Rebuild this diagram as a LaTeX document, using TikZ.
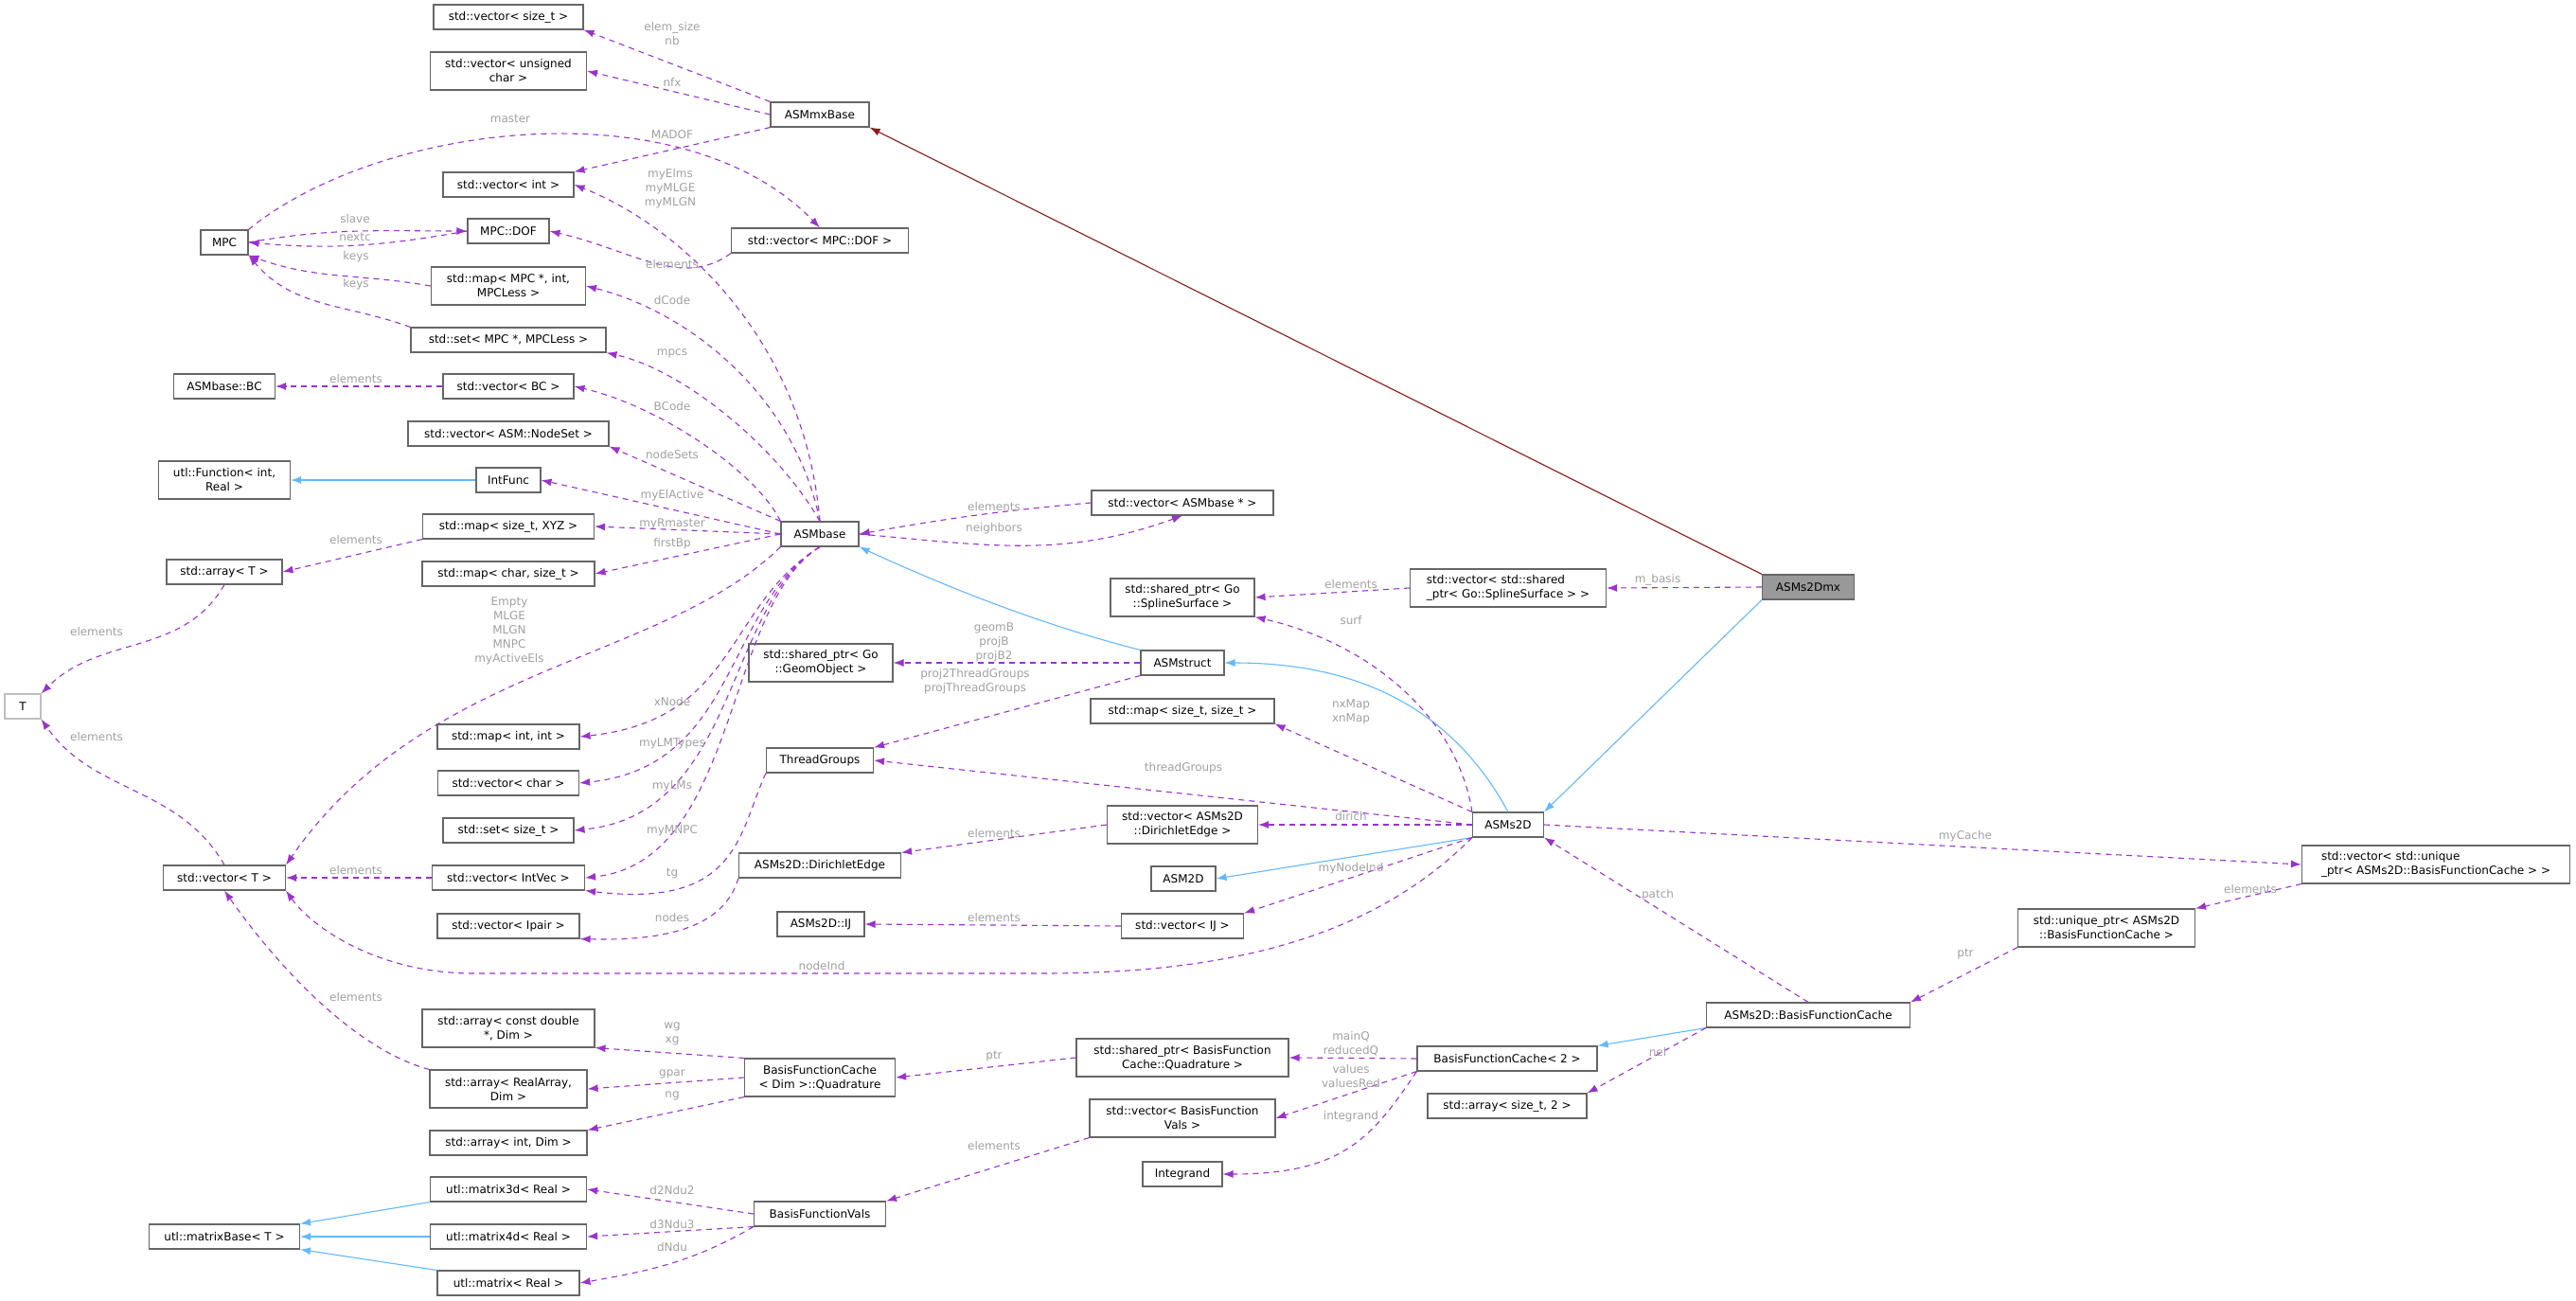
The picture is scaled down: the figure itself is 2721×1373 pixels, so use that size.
\documentclass[tikz,border=0pt]{standalone}
\usepackage{fontspec}
\setmainfont{DejaVu Sans}
\usetikzlibrary{arrows.meta}
\definecolor{pur}{HTML}{9A32CD}
\definecolor{lab}{HTML}{A0A0A0}
\definecolor{blu}{HTML}{63B8FF}
\definecolor{dred}{HTML}{8B1A1A}
\definecolor{bord}{HTML}{666666}
\begin{document}
\begin{tikzpicture}[x=1pt,y=-1pt,
 every node/.style={font=\fontsize{12}{15}\selectfont},
 box/.style={draw=bord,line width=1.1pt,fill=white,inner sep=1pt,align=center},
 rel/.style={pur,dashed,line width=1.1pt,dash pattern=on 6pt off 5pt,-{Latex[length=11pt,width=8pt]}},
 inh/.style={blu,line width=1.1pt,-{Latex[length=11pt,width=8pt]}},
 minh/.style={dred,line width=1.1pt,-{Latex[length=11pt,width=8pt]}},
 lb/.style={lab,align=center,inner sep=0pt,font=\fontsize{12}{15}\selectfont}]
\useasboundingbox (0,0) rectangle (2721,1373);
\newcommand{\bx}[6]{\node[box,minimum width=#4pt,minimum height=#5pt] (#1) at (#2,#3) {#6};}
\bx{vsizet}{537}{18}{158}{26}{std::vector< size\_t >}
\bx{vuchar}{537}{75}{165}{40}{std::vector< unsigned\\char >}
\bx{mxbase}{866}{121}{104}{26}{ASMmxBase}
\bx{vint}{537}{195}{138}{26}{std::vector< int >}
\bx{mpc}{237}{256}{50}{26}{MPC}
\bx{dof}{537}{244}{86}{26}{MPC::DOF}
\bx{vdof}{866}{254}{187}{26}{std::vector< MPC::DOF >}
\bx{mapmpc}{537}{302}{163}{40}{std::map< MPC *, int,\\MPCLess >}
\bx{setmpc}{537}{359}{206}{26}{std::set< MPC *, MPCLess >}
\bx{bc}{237}{408}{107}{26}{ASMbase::BC}
\bx{vbc}{537}{408}{138}{26}{std::vector< BC >}
\bx{vns}{537}{458}{212}{26}{std::vector< ASM::NodeSet >}
\bx{func}{237}{507}{139}{40}{utl::Function< int,\\Real >}
\bx{intfunc}{537}{507}{68}{26}{IntFunc}
\bx{mapxyz}{537}{556}{181}{26}{std::map< size\_t, XYZ >}
\bx{asmbase}{866}{564}{82}{26}{ASMbase}
\bx{arrT}{237}{604}{122}{26}{std::array< T >}
\bx{mapchar}{537}{606}{182}{26}{std::map< char, size\_t >}
\bx{geom}{867}{700}{152}{40}{std::shared\_ptr< Go\\::GeomObject >}
\node[box,draw=lightgray,minimum width=38pt,minimum height=26pt] (T) at (24,746) {T};
\bx{mapint}{537}{778}{150}{26}{std::map< int, int >}
\bx{tgroups}{866}{803}{113}{26}{ThreadGroups}
\bx{vchar}{537}{827}{149}{26}{std::vector< char >}
\bx{setsz}{537}{877}{138}{26}{std::set< size\_t >}
\bx{dedge}{866}{914}{171}{26}{ASMs2D::DirichletEdge}
\bx{vT}{237}{927}{129}{26}{std::vector< T >}
\bx{vintvec}{537}{927}{161}{26}{std::vector< IntVec >}
\bx{vipair}{537}{978}{150}{26}{std::vector< Ipair >}
\bx{ij}{867}{976}{92}{26}{ASMs2D::IJ}
\bx{arrcd}{537}{1086}{182}{40}{std::array< const double\\*, Dim >}
\bx{quad}{866}{1138}{159}{40}{BasisFunctionCache\\< Dim >::Quadrature}
\bx{arrra}{537}{1150}{166}{40}{std::array< RealArray,\\Dim >}
\bx{arrint}{537}{1207}{166}{26}{std::array< int, Dim >}
\bx{m3d}{537}{1256}{165}{26}{utl::matrix3d< Real >}
\bx{bfv}{866}{1282}{139}{26}{BasisFunctionVals}
\bx{mbase}{237}{1306}{159}{26}{utl::matrixBase< T >}
\bx{m4d}{537}{1306}{165}{26}{utl::matrix4d< Real >}
\bx{mat}{537}{1355}{150}{26}{utl::matrix< Real >}
\bx{vbase}{1249}{531}{192}{26}{std::vector< ASMbase * >}
\bx{spl}{1249}{631}{152}{40}{std::shared\_ptr< Go\\::SplineSurface >}
\node[box,align=left,minimum width=207pt,minimum height=40pt] (vspl) at (1593,621) {std::vector< std::shared\\\_ptr< Go::SplineSurface > >};
\node[box,fill=gray!80,minimum width=97pt,minimum height=26pt] (mx) at (1910,620) {ASMs2Dmx};
\bx{struct}{1249}{700}{88}{26}{ASMstruct}
\bx{mapss}{1249}{751}{194}{26}{std::map< size\_t, size\_t >}
\bx{vdedge}{1249}{871}{159}{40}{std::vector< ASMs2D\\::DirichletEdge >}
\bx{s2d}{1593}{871}{75}{26}{ASMs2D}
\bx{asm2d}{1250}{928}{68}{26}{ASM2D}
\bx{vij}{1249}{978}{129}{26}{std::vector< IJ >}
\bx{bfc}{1910}{1072}{215}{26}{ASMs2D::BasisFunctionCache}
\bx{spq}{1249}{1117}{224}{40}{std::shared\_ptr< BasisFunction\\Cache::Quadrature >}
\bx{bfc2}{1592}{1118}{190}{26}{BasisFunctionCache< 2 >}
\bx{vbfv}{1249}{1181}{196}{40}{std::vector< BasisFunction\\Vals >}
\bx{arr2}{1592}{1168}{168}{26}{std::array< size\_t, 2 >}
\bx{integ}{1249}{1240}{84}{26}{Integrand}
\node[box,align=left,minimum width=283pt,minimum height=40pt] (vuniq) at (2573,913) {std::vector< std::unique\\\_ptr< ASMs2D::BasisFunctionCache > >};
\bx{uniq}{2225}{980}{187}{40}{std::unique\_ptr< ASMs2D\\::BasisFunctionCache >}

% edges
\draw[rel] (mxbase.north west) -- (vsizet.south east);
\draw[rel] (mxbase.west) -- (vuchar.east);
\draw[rel] (mxbase.south west) -- (vint.north east);
\draw[rel] (mpc.north east) .. controls (400,130) and (720,90) .. (vdof.north);
\draw[rel] (mpc.east) to[out=10,in=180] (dof.west);
\draw[rel] (dof.west) to[out=190,in=-5] (mpc.east);
\draw[rel] (mapmpc.west) to[out=170,in=-20] (mpc.south east);
\draw[rel] (setmpc.north west) to[out=160,in=-50] (mpc.south east);
\draw[rel] (vdof.south west) .. controls (720,305) and (670,265) .. (dof.east);
\draw[rel] (asmbase.north) .. controls (850,360) and (720,240) .. (vint.east);
\draw[rel] (asmbase.north) .. controls (840,420) and (730,330) .. (mapmpc.east);
\draw[rel] (asmbase.north) .. controls (820,470) and (720,390) .. (setmpc.south east);
\draw[rel] (asmbase.north west) .. controls (800,500) and (700,430) .. (vbc.east);
\draw[rel] (vbc.west) -- (bc.east);
\draw[rel] (asmbase.north west) -- (vns.south east);
\draw[inh] (intfunc.west) -- (func.east);
\draw[rel] (asmbase.west) -- (intfunc.east);
\draw[rel] (asmbase.west) -- (mapxyz.east);
\draw[rel] (asmbase.west) -- (mapchar.east);
\draw[rel] (mapxyz.south west) -- (arrT.east);
\draw[rel] (arrT.south) to[out=-120,in=45] (T.north east);
\draw[rel] (vT.north) to[out=120,in=-55] (T.south east);
\draw[rel] (asmbase.south west) .. controls (700,700) and (450,700) .. (vT.north east);
\draw[rel] (asmbase.south) .. controls (765,640) and (780,760) .. (mapint.east);
\draw[rel] (asmbase.south) .. controls (765,640) and (780,810) .. (vchar.east);
\draw[rel] (asmbase.south) .. controls (765,640) and (780,860) .. (setsz.east);
\draw[rel] (asmbase.south) .. controls (765,640) and (780,910) .. (vintvec.east);
\draw[rel] (vintvec.west) -- (vT.east);
\draw[rel] (tgroups.south west) .. controls (780,880) and (780,960) .. (vintvec.south east);
\draw[rel] (dedge.south west) .. controls (770,960) and (740,995) .. (vipair.south east);
\draw[rel] (s2d.south west) .. controls (1450,990) and (1300,1028) .. (1100,1028) -- (500,1028) .. controls (400,1028) and (330,980) .. (vT.south east);
\draw[rel] (arrra.north west) .. controls (380,1110) and (300,1030) .. (vT.south);
\draw[rel] (quad.north west) -- (arrcd.south east);
\draw[rel] (quad.west) -- (arrra.east);
\draw[rel] (quad.south west) -- (arrint.north east);
\draw[inh] (m3d.south west) -- (mbase.north east);
\draw[inh] (m4d.west) -- (mbase.east);
\draw[inh] (mat.north west) -- (mbase.south east);
\draw[rel] (bfv.west) -- (m3d.east);
\draw[rel] (bfv.south west) -- (m4d.east);
\draw[rel] (bfv.south west) to[out=-150,in=10] (mat.east);
\draw[rel] (vbase.west) to[out=185,in=10] (asmbase.east);
\draw[rel] (asmbase.east) to[out=-5,in=200] (vbase.south);
\draw[inh] (struct.north west) .. controls (1100,660) and (1000,620) .. (asmbase.south east);
\draw[rel] (struct.west) -- (geom.east);
\draw[rel] (struct.south west) -- (tgroups.north east);
\draw[rel] (vspl.west) -- (spl.east);
\draw[rel] (mx.west) -- (vspl.east);
\draw[minh] (mx.north west) -- (mxbase.south east);
\draw[inh] (mx.south west) -- (s2d.north east);
\draw[inh] (s2d.north) .. controls (1540,760) and (1450,700) .. (struct.east);
\draw[rel] (s2d.north west) .. controls (1540,760) and (1450,680) .. (spl.south east);
\draw[rel] (s2d.north west) -- (mapss.south east);
\draw[rel] (s2d.west) -- (tgroups.east);
\draw[rel] (s2d.west) -- (vdedge.east);
\draw[rel] (vdedge.west) -- (dedge.north east);
\draw[inh] (s2d.south west) -- (asm2d.east);
\draw[rel] (s2d.south west) -- (vij.north east);
\draw[rel] (vij.west) -- (ij.east);
\draw[rel] (s2d.east) -- (vuniq.west);
\draw[rel] (vuniq.south west) -- (uniq.north east);
\draw[rel] (uniq.south west) -- (bfc.north east);
\draw[rel] (bfc.north) -- (s2d.south east);
\draw[inh] (bfc.south west) -- (bfc2.north east);
\draw[rel] (bfc.south west) -- (arr2.north east);
\draw[rel] (bfc2.west) -- (spq.east);
\draw[rel] (spq.west) -- (quad.east);
\draw[rel] (bfc2.south west) -- (vbfv.east);
\draw[rel] (vbfv.south west) -- (bfv.north east);
\draw[rel] (bfc2.south west) .. controls (1450,1200) and (1420,1240) .. (integ.east);

% labels
\node[lb] at (710,36) {elem\_size\\nb};
\node[lb] at (710,87) {nfx};
\node[lb] at (539,125) {master};
\node[lb] at (710,142) {MADOF};
\node[lb] at (708,199) {myElms\\myMLGE\\myMLGN};
\node[lb] at (375,231) {slave};
\node[lb] at (375,250) {nextc};
\node[lb] at (376,271) {keys};
\node[lb] at (710,279) {elements};
\node[lb] at (376,300) {keys};
\node[lb] at (710,317) {dCode};
\node[lb] at (710,373) {mpcs};
\node[lb] at (376,400) {elements};
\node[lb] at (710,429) {BCode};
\node[lb] at (710,480) {nodeSets};
\node[lb] at (710,523) {myElActive};
\node[lb] at (710,553) {myRmaster};
\node[lb] at (376,570) {elements};
\node[lb] at (710,574) {firstBp};
\node[lb] at (538,666) {Empty\\MLGE\\MLGN\\MNPC\\myActiveEls};
\node[lb] at (102,667) {elements};
\node[lb] at (102,778) {elements};
\node[lb] at (710,741) {xNode};
\node[lb] at (710,785) {myLMTypes};
\node[lb] at (710,830) {myLMs};
\node[lb] at (710,877) {myMNPC};
\node[lb] at (376,919) {elements};
\node[lb] at (710,923) {tg};
\node[lb] at (710,969) {nodes};
\node[lb] at (868,1020) {nodeInd};
\node[lb] at (376,1053) {elements};
\node[lb] at (710,1092) {wg\\xg};
\node[lb] at (710,1134) {gpar};
\node[lb] at (710,1157) {ng};
\node[lb] at (710,1257) {d2Ndu2};
\node[lb] at (710,1293) {d3Ndu3};
\node[lb] at (710,1317) {dNdu};
\node[lb] at (1050,535) {elements};
\node[lb] at (1050,558) {neighbors};
\node[lb] at (1427,617) {elements};
\node[lb] at (1751,612) {m\_basis};
\node[lb] at (1427,655) {surf};
\node[lb] at (1050,678) {geomB\\projB\\projB2};
\node[lb] at (1030,720) {proj2ThreadGroups\\projThreadGroups};
\node[lb] at (1427,752) {nxMap\\xnMap};
\node[lb] at (1250,811) {threadGroups};
\node[lb] at (1427,862) {dirich};
\node[lb] at (1050,880) {elements};
\node[lb] at (1427,917) {myNodeInd};
\node[lb] at (1751,945) {patch};
\node[lb] at (1050,969) {elements};
\node[lb] at (1427,1102) {mainQ\\reducedQ};
\node[lb] at (1050,1116) {ptr};
\node[lb] at (1427,1137) {values\\valuesRed};
\node[lb] at (1751,1111) {nel};
\node[lb] at (1427,1179) {integrand};
\node[lb] at (1050,1210) {elements};
\node[lb] at (2076,883) {myCache};
\node[lb] at (2377,939) {elements};
\node[lb] at (2076,1008) {ptr};
\end{tikzpicture}
\end{document}
